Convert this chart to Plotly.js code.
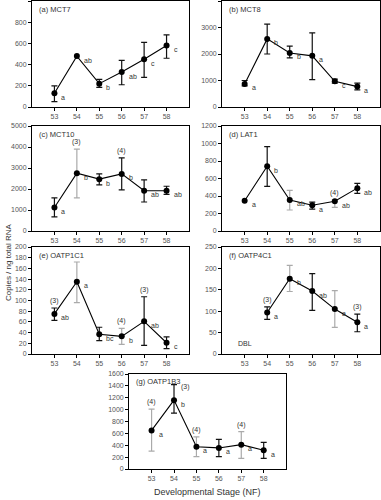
<!DOCTYPE html>
<html><head><meta charset="utf-8">
<script src="https://cdn.plot.ly/plotly-3.0.1.min.js"></script>
<style>body{margin:0;background:#fff}#c{width:381px;height:500px}</style>
</head><body><div id="c"></div>
<script>
const stages = ['53','54','55','56','57','58'];

// (a) MCT7
const aMean = [130, 480, 220, 330, 450, 580];
const aHi   = [200, null, 260, 440, 610, 680];
const aLo   = [50,  null, 185, 210, 280, 460];
const aGray = [0,0,0,0,0,0];
const aLet  = ['a','ab','b','ab','c','c'];
const aN    = ['','','','','',''];
// (b) MCT8
const bMean = [870, 2570, 2040, 1930, 970, 770];
const bHi   = [1000, 3130, 2300, 2800, 1050, 900];
const bLo   = [800, 2000, 1850, 1030, 900, 650];
const bGray = [0,0,0,0,0,0];
const bLet  = ['a','b','b','a','c','a'];
const bN    = ['','','','','',''];
// (c) MCT10
const cMean = [1120, 2750, 2470, 2720, 1920, 1920];
const cHi   = [1580, 3900, 2720, 3480, 2430, 2130];
const cLo   = [670, 1580, 2200, 1960, 1380, 1740];
const cGray = [0,1,0,0,0,0];
const cLet  = ['a','b','b','b','ab','ab'];
const cN    = ['','(3)','','(4)','',''];
// (d) LAT1
const dMean = [345, 740, 355, 295, 340, 490];
const dHi   = [null, 965, 465, 330, 355, 545];
const dLo   = [null, 510, 240, 250, 270, 430];
const dGray = [0,0,1,0,1,0];
const dLet  = ['a','b','ab','a','ab','ab'];
const dN    = ['','','','','(4)',''];
// (e) OATP1C1
const eMean = [75, 135, 37, 33, 61, 21];
const eHi   = [86, 172, 50, 48, 107, 32];
const eLo   = [63, 96, 25, 18, 16, 10];
const eGray = [0,1,0,1,0,0];
const eLet  = ['ab','a','bc','b','ab','c'];
const eN    = ['(3)','','','(4)','(3)',''];
// (f) OATP4C1
const fMean = [null, 97, 176, 147, 105, 74];
const fHi   = [null, 110, 207, 188, 148, 93];
const fLo   = [null, 81, 146, 102, 62, 52];
const fGray = [0,0,1,0,1,0];
const fLet  = ['','a','b','ab','a','a'];
const fN    = ['','(3)','','','','(3)'];
// (g) OATP1B3
const gMean = [650, 1160, 375, 355, 410, 315];
const gHi   = [1010, 1420, 540, 500, 630, 450];
const gLo   = [300, 940, 210, 210, 180, 180];
const gGray = [1,0,1,0,1,0];
const gLet  = ['a','b','a','a','a','a'];
const gN    = ['(4)','(3)','(4)','','(4)',''];

const panels = [
  {t:'(a) MCT7', m:aMean, hi:aHi, lo:aLo, g:aGray, l:aLet, n:aN, ymax:1000, dt:200, xd:[0.084,0.496], yd:[0.786,0.998]},
  {t:'(b) MCT8', m:bMean, hi:bHi, lo:bLo, g:bGray, l:bLet, n:bN, ymax:4000, dt:1000, xd:[0.583,0.997], yd:[0.786,0.998]},
  {t:'(c) MCT10', m:cMean, hi:cHi, lo:cLo, g:cGray, l:cLet, n:cN, ymax:5000, dt:1000, xd:[0.084,0.496], yd:[0.538,0.748]},
  {t:'(d) LAT1', m:dMean, hi:dHi, lo:dLo, g:dGray, l:dLet, n:dN, ymax:1200, dt:200, xd:[0.583,0.997], yd:[0.538,0.748]},
  {t:'(e) OATP1C1', m:eMean, hi:eHi, lo:eLo, g:eGray, l:eLet, n:eN, ymax:200, dt:20, xd:[0.084,0.496], yd:[0.292,0.506]},
  {t:'(f) OATP4C1', m:fMean, hi:fHi, lo:fLo, g:fGray, l:fLet, n:fN, ymax:250, dt:50, xd:[0.583,0.997], yd:[0.292,0.506]},
  {t:'(g) OATP1B3', m:gMean, hi:gHi, lo:gLo, g:gGray, l:gLet, n:gN, ymax:1600, dt:200, xd:[0.339,0.751], yd:[0.062,0.252]}
];

const FONT = 'Liberation Sans, Arial, sans-serif';
const TXT = '#333333';
const traces = [];
const layout = {
  width:381, height:500, margin:{l:0,r:0,t:0,b:0},
  paper_bgcolor:'#fff', plot_bgcolor:'#fff', showlegend:false,
  font:{family:FONT, size:7, color:TXT}, annotations:[]
};
const idx = [0,1,2,3,4,5];

panels.forEach((p,i)=>{
  const k = i===0 ? '' : String(i+1);
  const xa = 'x'+k, ya = 'y'+k;
  ['black','gray'].forEach((col,ci)=>{
    const sel = idx.filter(j=>p.m[j]!==null && p.hi[j]!==null && p.g[j]===ci);
    if(!sel.length) return;
    traces.push({
      x: sel.map(j=>j), y: sel.map(j=>p.m[j]), xaxis:xa, yaxis:ya,
      type:'scatter', mode:'markers', marker:{size:1, color:'rgba(0,0,0,0)'},
      hoverinfo:'skip',
      error_y:{type:'data', symmetric:false,
        array: sel.map(j=>p.hi[j]-p.m[j]), arrayminus: sel.map(j=>p.m[j]-p.lo[j]),
        color: ci? '#aaaaaa':'#111', thickness:1.2, width:3}
    });
  });
  const pts = idx.filter(j=>p.m[j]!==null);
  traces.push({
    x: pts, y: pts.map(j=>p.m[j]), xaxis:xa, yaxis:ya, type:'scatter', mode:'lines+markers',
    line:{color:'#000', width:1.1}, marker:{color:'#000', size:6, symbol:'circle'}
  });
  layout['xaxis'+k] = {
    domain:p.xd, anchor:ya, range:[-1,6], tickmode:'array', tickvals:idx, ticktext:stages,
    showgrid:false, zeroline:false, showline:true, linecolor:'#000', linewidth:1, mirror:true,
    ticks:'outside', ticklen:3, tickcolor:'#000', tickfont:{size:7, color:'#555', family:FONT}
  };
  layout['yaxis'+k] = {
    domain:p.yd, anchor:xa, range:[0,p.ymax], dtick:p.dt, tick0:0,
    showgrid:false, zeroline:false, showline:true, linecolor:'#000', linewidth:1, mirror:true,
    ticks:'outside', ticklen:3, tickcolor:'#000', tickfont:{size:7, color:'#555', family:FONT}
  };
  layout.annotations.push({xref:xa+' domain', yref:ya+' domain', x:0.03, y:0.985, xanchor:'left', yanchor:'top',
    text:p.t, showarrow:false, font:{size:7.5, color:TXT, family:FONT}});
  pts.forEach(j=>{
    if(p.l[j]) layout.annotations.push({xref:xa, yref:ya, x:j, y:p.m[j], xshift:5, yshift:-4,
      xanchor:'left', yanchor:'middle', text:p.l[j], showarrow:false, font:{size:7, color:TXT, family:FONT}});
    if(p.n[j]) {
      const side = (i===6 && j===1);
      layout.annotations.push({xref:xa, yref:ya, x:j, y:(p.hi[j]!==null?p.hi[j]:p.m[j]),
        xshift: side?5:0, yshift: side?-2:1,
        xanchor: side?'left':'center', yanchor: side?'middle':'bottom', text:p.n[j], showarrow:false,
        font:{size:7, color:TXT, family:FONT}});
    }
  });
});

layout.annotations.push({xref:'x6', yref:'y6', x:0, y:25, xanchor:'center', yanchor:'middle', text:'DBL',
  showarrow:false, font:{size:7, color:TXT, family:FONT}});
layout.annotations.push({xref:'paper', yref:'paper', x:0.004, xanchor:'left', y:0.476, textangle:-90, text:'Copies / ng total RNA',
  showarrow:false, font:{size:8, color:TXT, family:FONT}});
layout.annotations.push({xref:'paper', yref:'paper', x:0.545, y:0.002, yanchor:'bottom', text:'Developmental Stage (NF)',
  showarrow:false, font:{size:9, color:TXT, family:FONT}});

Plotly.newPlot('c', traces, layout, {staticPlot:true, displayModeBar:false});
</script></body></html>
